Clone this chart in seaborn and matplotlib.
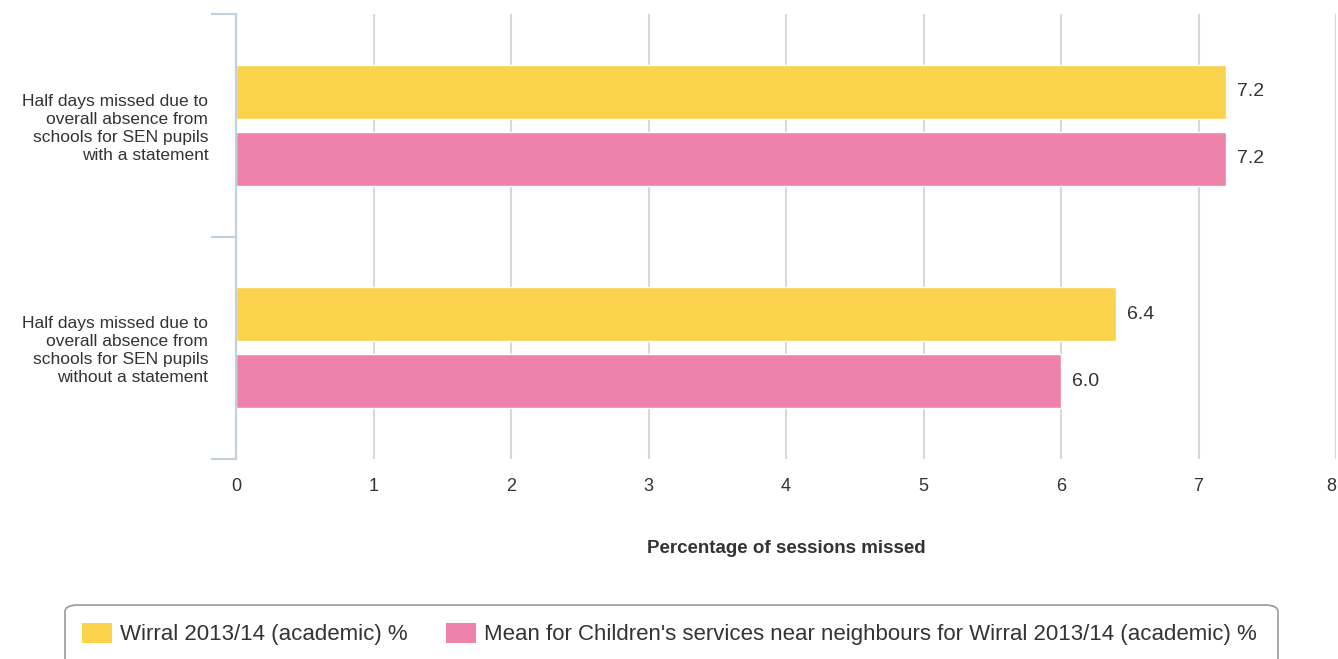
import pandas as pd
import matplotlib.pyplot as plt
import seaborn as sns
from matplotlib.patches import FancyBboxPatch, Patch

# Data
indicators = [
    'Half days missed due to\noverall absence from\nschools for SEN pupils\nwith a statement',
    'Half days missed due to\noverall absence from\nschools for SEN pupils\nwithout a statement',
]
series_names = [
    'Wirral 2013/14 (academic) %',
    "Mean for Children's services near neighbours for Wirral 2013/14 (academic) %",
]
wirral = [7.2, 6.4]
neighbours = [7.2, 6.0]
x_ticks = [0, 1, 2, 3, 4, 5, 6, 7, 8]

colors = ['#FBD24C', '#EF82AB']

df = pd.DataFrame({
    'Indicator': indicators * 2,
    'Series': [series_names[0]] * 2 + [series_names[1]] * 2,
    'Value': wirral + neighbours,
})

sns.set_theme(style='white')
plt.rcParams['font.family'] = ['Liberation Sans', 'DejaVu Sans']

fig = plt.figure(figsize=(13.38, 6.59), dpi=100)
ax = fig.add_axes([236 / 1338, 1 - 459 / 659, 1100 / 1338, 445 / 659])

sns.barplot(data=df, y='Indicator', x='Value', hue='Series', orient='h',
            palette=colors, width=0.6, saturation=1, legend=False, ax=ax)

# Shrink each bar so there's a gap between the pair
bar_h = 54 / 223
for p in ax.patches:
    cy = p.get_y() + p.get_height() / 2
    p.set_height(bar_h)
    p.set_y(cy - bar_h / 2)
    p.set_edgecolor('white')
    p.set_linewidth(1)
    val = p.get_width()
    ax.text(val + 0.08, cy, f'{val:.1f}', va='center', ha='left',
            fontsize=14, color='#333333')

ax.set_xlim(0, 8)
ax.set_ylim(1.5, -0.5)
ax.set_xticks(x_ticks)
ax.set_xticklabels([str(t) for t in x_ticks], fontsize=13, color='#333333')
ax.get_xticklabels()[-1].set_horizontalalignment('right')
ax.tick_params(axis='x', length=0, pad=14)
ax.tick_params(axis='y', which='major', left=False, length=0, pad=20,
               labelsize=12.5, labelcolor='#333333')
for lbl in ax.get_yticklabels():
    lbl.set_horizontalalignment('right')
    lbl.set_linespacing(1.25)

# Category boundary ticks on the y axis
ax.set_yticks([-0.5, 0.5, 1.5], minor=True)
ax.tick_params(axis='y', which='minor', left=True, length=18, width=1.5,
               color='#C0D0E0')

ax.xaxis.grid(True, color='#D8D8D8', linewidth=1.5)
ax.set_axisbelow(True)
for side in ['top', 'right', 'bottom']:
    ax.spines[side].set_visible(False)
ax.spines['left'].set_color('#C0D0E0')
ax.spines['left'].set_linewidth(1.5)

ax.set_ylabel('')
ax.set_xlabel('Percentage of sessions missed', fontsize=13.5, fontweight='bold',
              color='#333333', labelpad=32)

# Legend box (cut off at the bottom like the reference)
box_top = 1 - 605 / 659
box = FancyBboxPatch((65 / 1338, -0.05), 1213 / 1338, box_top + 0.05,
                     boxstyle='round,pad=0,rounding_size=0.01',
                     transform=fig.transFigure, facecolor='white',
                     edgecolor='#999999', linewidth=1.2)
fig.patches.append(box)

handles = [Patch(facecolor=c, edgecolor='none') for c in colors]
fig.legend(handles, series_names, loc='center left',
           bbox_to_anchor=(82 / 1338, 1 - 634 / 659), ncol=2, frameon=False,
           fontsize=16, handlelength=1.36, handleheight=1.0, handletextpad=0.36,
           columnspacing=1.7, borderaxespad=0, borderpad=0,
           labelcolor='#333333')

plt.savefig('out.png', dpi=100)
plt.close()
